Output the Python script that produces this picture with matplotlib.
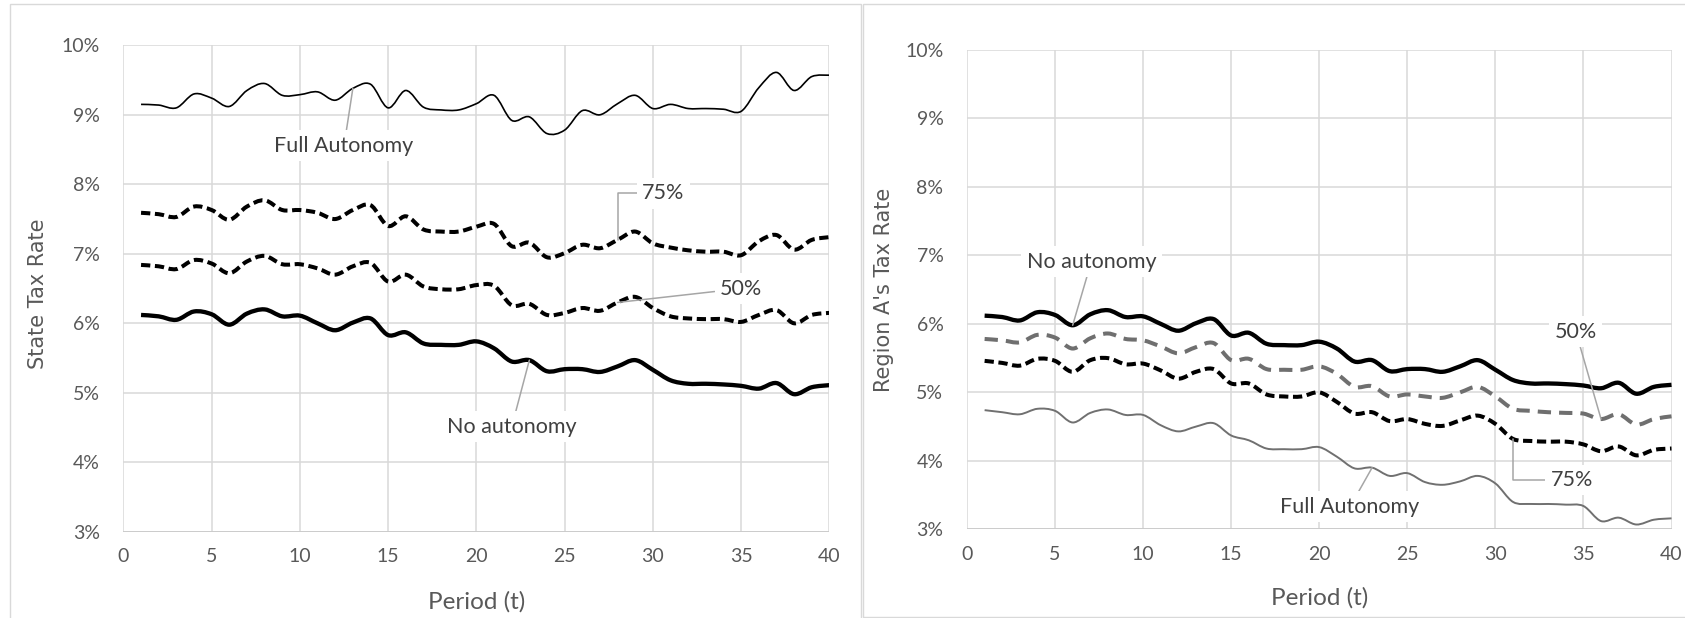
import numpy as np
import matplotlib
matplotlib.use("Agg")
import matplotlib.pyplot as plt
from matplotlib.path import Path
from matplotlib.patches import PathPatch, Rectangle

# periods
t = np.arange(1, 41)

# state tax rate (%), left panel
state_full = [9.15, 9.14, 9.10, 9.30, 9.24, 9.12, 9.35, 9.45, 9.28, 9.29,
              9.33, 9.21, 9.38, 9.44, 9.10, 9.35, 9.11, 9.07, 9.07, 9.16,
              9.28, 8.92, 8.97, 8.73, 8.78, 9.06, 9.00, 9.16, 9.28, 9.09,
              9.15, 9.09, 9.09, 9.08, 9.05, 9.39, 9.61, 9.35, 9.55, 9.57]
state_75 = [7.59, 7.57, 7.53, 7.68, 7.63, 7.49, 7.68, 7.77, 7.63, 7.63,
            7.59, 7.50, 7.63, 7.70, 7.40, 7.54, 7.35, 7.32, 7.32, 7.39,
            7.43, 7.11, 7.16, 6.95, 7.01, 7.13, 7.08, 7.20, 7.32, 7.15,
            7.09, 7.05, 7.03, 7.03, 6.98, 7.18, 7.27, 7.06, 7.20, 7.24]
state_50 = [6.84, 6.82, 6.78, 6.91, 6.86, 6.72, 6.89, 6.97, 6.85, 6.85,
            6.79, 6.70, 6.82, 6.87, 6.60, 6.70, 6.53, 6.49, 6.49, 6.55,
            6.54, 6.26, 6.28, 6.12, 6.15, 6.22, 6.18, 6.30, 6.38, 6.22,
            6.10, 6.07, 6.06, 6.06, 6.02, 6.12, 6.19, 6.00, 6.12, 6.15]
no_autonomy = [6.12, 6.10, 6.05, 6.17, 6.13, 5.98, 6.14, 6.20, 6.10, 6.11,
               6.00, 5.90, 6.01, 6.07, 5.83, 5.87, 5.71, 5.69, 5.69, 5.74,
               5.64, 5.45, 5.47, 5.31, 5.34, 5.34, 5.30, 5.38, 5.47, 5.33,
               5.18, 5.13, 5.13, 5.12, 5.10, 5.06, 5.14, 4.98, 5.08, 5.11]

# region A tax rate (%), right panel
region_50 = [5.78, 5.76, 5.73, 5.84, 5.80, 5.64, 5.79, 5.86, 5.78, 5.76,
             5.67, 5.57, 5.66, 5.72, 5.47, 5.49, 5.34, 5.33, 5.33, 5.38,
             5.27, 5.08, 5.09, 4.94, 4.97, 4.94, 4.92, 5.00, 5.08, 4.94,
             4.76, 4.73, 4.71, 4.70, 4.69, 4.61, 4.68, 4.53, 4.61, 4.65]
region_75 = [5.46, 5.43, 5.39, 5.49, 5.46, 5.30, 5.47, 5.50, 5.41, 5.42,
             5.32, 5.20, 5.30, 5.34, 5.13, 5.13, 4.97, 4.94, 4.94, 5.00,
             4.86, 4.69, 4.71, 4.58, 4.61, 4.54, 4.51, 4.59, 4.66, 4.54,
             4.32, 4.29, 4.28, 4.28, 4.24, 4.14, 4.21, 4.08, 4.16, 4.18]
region_full = [4.74, 4.71, 4.68, 4.76, 4.73, 4.56, 4.70, 4.75, 4.67, 4.67,
               4.52, 4.43, 4.50, 4.55, 4.37, 4.30, 4.18, 4.17, 4.17, 4.20,
               4.06, 3.89, 3.90, 3.78, 3.82, 3.69, 3.65, 3.70, 3.78, 3.67,
               3.40, 3.37, 3.37, 3.36, 3.34, 3.12, 3.17, 3.07, 3.14, 3.16]

x_ticks = list(range(0, 41, 5))
y_ticks = list(range(3, 11))

GRID = '#d9d9d9'
TXT = '#595959'
TICKFONT = 'Lato'


def smooth_path(x, y):
    # excel style smoothed line: catmull-rom turned into bezier segments
    n = len(x)
    verts = [(x[0], y[0])]
    codes = [Path.MOVETO]
    for i in range(n - 1):
        xp, yp = (x[i - 1], y[i - 1]) if i > 0 else (x[i], y[i])
        xn, yn = (x[i + 2], y[i + 2]) if i + 2 < n else (x[i + 1], y[i + 1])
        c1 = (x[i] + (x[i + 1] - xp) / 6, y[i] + (y[i + 1] - yp) / 6)
        c2 = (x[i + 1] - (xn - x[i]) / 6, y[i + 1] - (yn - y[i]) / 6)
        verts += [c1, c2, (x[i + 1], y[i + 1])]
        codes += [Path.CURVE4] * 3
    return Path(verts, codes)


def draw(ax, y, color, lw, ls='-'):
    p = PathPatch(smooth_path(t, y), fill=False, edgecolor=color, lw=lw,
                  linestyle=ls, joinstyle='round', capstyle='butt', zorder=3)
    ax.add_patch(p)


def setup(ax, ylabel):
    ax.set_xlim(0, 40)
    ax.set_ylim(3, 10)
    ax.set_xticks(x_ticks)
    ax.set_yticks(y_ticks)
    ax.set_yticklabels([f'{v}%' for v in y_ticks])
    for s in ax.spines.values():
        s.set_visible(False)
    ax.grid(True, color=GRID, lw=1.1, zorder=0)
    ax.set_axisbelow(True)
    ax.axhline(3, color='#c8c8c8', lw=1.2, zorder=1)
    ax.tick_params(length=0, colors=TXT, labelsize=14)
    ax.tick_params(axis='y', pad=17)
    ax.tick_params(axis='x', pad=12)
    for lab in ax.get_xticklabels() + ax.get_yticklabels():
        lab.set_fontfamily(TICKFONT)
    ax.set_xlabel('Period (t)', fontsize=17.5, color=TXT, family=TICKFONT)
    ax.xaxis.set_label_coords(0.5, -0.143)
    ax.xaxis.label.set_va('center')
    ax.set_ylabel(ylabel, fontsize=15, color=TXT, family='DejaVu Sans')
    ax.yaxis.label.set_va('center')


def note(ax, text, xy, xytext, conn='arc3'):
    ax.annotate(text, xy=xy, xytext=xytext, ha='center', va='center',
                fontsize=15.5, color='#404040', family=TICKFONT, zorder=6,
                bbox=dict(boxstyle='square,pad=0.25', fc='white', ec='none'),
                arrowprops=dict(arrowstyle='-', color='#a6a6a6', lw=1.1,
                                shrinkA=0, shrinkB=0, connectionstyle=conn))


fig = plt.figure(figsize=(16.85, 6.18), dpi=100)

# chart borders like the excel chart areas
fig.patches.append(Rectangle((9.5 / 1685, -0.1), 851 / 1685, 1.1 - 4 / 618,
                             transform=fig.transFigure, fill=False,
                             ec='#d9d9d9', lw=1))
fig.patches.append(Rectangle((862.5 / 1685, 1 / 618), 1, 1 - 5 / 618,
                             transform=fig.transFigure, fill=False,
                             ec='#d9d9d9', lw=1))

ax1 = fig.add_axes([123.4 / 1685, 1 - 531.8 / 618, 706 / 1685, 486.5 / 618])
ax2 = fig.add_axes([967 / 1685, 1 - 529.3 / 618, 704.5 / 1685, 479.3 / 618])

setup(ax1, 'State Tax Rate')
ax1.yaxis.set_label_coords(-0.1215, 0.49)
setup(ax2, "Region A's Tax Rate")
ax2.yaxis.set_label_coords(-0.118, 0.5)

short_dash = (0, (2.3, 1.15))
long_dash = (0, (3.3, 2.0))

# left panel
draw(ax1, state_full, 'black', 1.2)
draw(ax1, state_75, 'black', 2.9, short_dash)
draw(ax1, state_50, 'black', 2.9, short_dash)
draw(ax1, no_autonomy, 'black', 3.1)

note(ax1, 'Full Autonomy', (13, state_full[12]), (12.5, 8.555))
note(ax1, '75%', (28, state_75[27]), (30.6, 7.87),
     conn='angle,angleA=0,angleB=90,rad=0')
note(ax1, '50%', (28, state_50[27]), (35.0, 6.50))
note(ax1, 'No autonomy', (23, no_autonomy[22]), (22.0, 4.51))

# right panel
draw(ax2, region_full, '#707070', 1.4)
draw(ax2, region_75, 'black', 2.9, short_dash)
draw(ax2, region_50, '#6f6f6f', 2.9, long_dash)
draw(ax2, no_autonomy, 'black', 3.1)

note(ax2, 'No autonomy', (6, no_autonomy[5]), (7.06, 6.91))
note(ax2, '50%', (36, region_50[35]), (34.57, 5.886))
note(ax2, '75%', (31, region_75[30]), (34.33, 3.72),
     conn='angle,angleA=0,angleB=90,rad=0')
note(ax2, 'Full Autonomy', (23, region_full[22]), (21.75, 3.33))

fig.savefig('out.png', dpi=100)
